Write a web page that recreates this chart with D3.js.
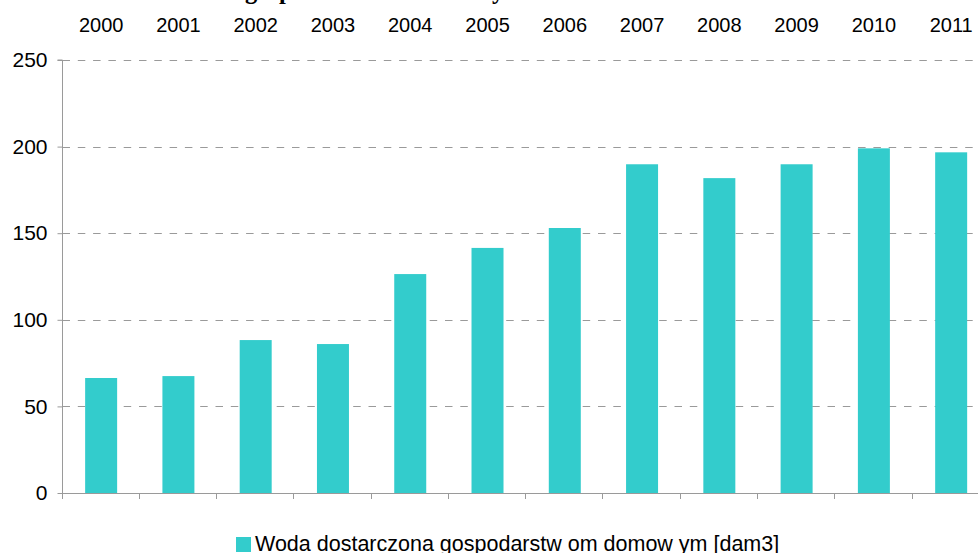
<!DOCTYPE html>
<html>
<head>
<meta charset="utf-8">
<script src="https://cdn.jsdelivr.net/npm/d3@7"></script>
<style>
  html, body { margin: 0; padding: 0; background: #fff; overflow: hidden; }
  svg { display: block; }
</style>
</head>
<body>
<script>
// Water delivered to households, 2000–2011 [dam3]
const years = ["2000","2001","2002","2003","2004","2005","2006","2007","2008","2009","2010","2011"];
const values = [66.4, 67.5, 88.3, 86.0, 126.4, 141.5, 153.0, 189.8, 181.8, 189.8, 199.0, 196.7];
const yTicks = [0, 50, 100, 150, 200, 250];
const titleText = "Woda dostarczona gospodarstwom domowym";
const legendText = "Woda dostarczona gospodarstw om domow ym [dam3]";

const W = 978, H = 553;
const plot = { left: 62.5, right: 989.8, top: 60, bottom: 493 };
const barColor = "#33CCCC";
const axisColor = "#9a9a9a";

const svg = d3.select("body").append("svg")
  .attr("width", W).attr("height", H);

const x = d3.scaleBand()
  .domain(years)
  .range([plot.left, plot.right])
  .paddingInner(0.586)
  .paddingOuter(0.293);

const y = d3.scaleLinear()
  .domain([0, 250])
  .range([plot.bottom, plot.top]);

// Title (mostly above the visible area)
const title = svg.append("text")
  .attr("y", -1)
  .attr("font-family", "'Liberation Serif', 'Times New Roman', serif")
  .attr("font-weight", "bold")
  .attr("font-size", 24.5)
  .attr("fill", "#000")
  .text(titleText);
const gIdx = titleText.indexOf("g");
const preW = title.node().getSubStringLength(0, gIdx);
title.attr("x", 245 - preW);

// Dashed horizontal gridlines
svg.append("g")
  .selectAll("line")
  .data(yTicks.filter(d => d > 0))
  .join("line")
  .attr("x1", plot.left).attr("x2", W)
  .attr("y1", d => Math.round(y(d)) + 0.5)
  .attr("y2", d => Math.round(y(d)) + 0.5)
  .attr("stroke", axisColor)
  .attr("stroke-width", 1)
  .attr("stroke-dasharray", "7.5,7.8");

// Bars
svg.append("g")
  .selectAll("rect")
  .data(years.map((yr, i) => ({ yr, v: values[i] })))
  .join("rect")
  .attr("x", d => x(d.yr))
  .attr("width", x.bandwidth())
  .attr("y", d => y(d.v))
  .attr("height", d => y(0) - y(d.v))
  .attr("fill", barColor);

// Y axis
const yAxis = d3.axisLeft(y)
  .tickValues(yTicks)
  .tickSize(5)
  .tickPadding(10)
  .tickFormat(d3.format("d"));
const gy = svg.append("g")
  .attr("transform", `translate(${Math.round(plot.left) - 0.5},0)`)
  .call(yAxis);
gy.select(".domain").attr("stroke", axisColor).attr("d", `M-5,${plot.top}H0V${plot.bottom}`);
gy.selectAll(".tick line").attr("stroke", axisColor);
gy.selectAll(".tick text")
  .attr("font-family", "'Liberation Sans', Arial, sans-serif")
  .attr("font-size", 21)
  .attr("fill", "#000");

// X axis baseline and category boundary ticks
const step = x.step();
const boundaries = d3.range(years.length + 1).map(i => plot.left + i * step);
svg.append("line")
  .attr("x1", plot.left).attr("x2", W)
  .attr("y1", plot.bottom + 0.5).attr("y2", plot.bottom + 0.5)
  .attr("stroke", axisColor);
svg.append("g")
  .selectAll("line")
  .data(boundaries)
  .join("line")
  .attr("x1", d => Math.round(d) - 0.5).attr("x2", d => Math.round(d) - 0.5)
  .attr("y1", plot.bottom).attr("y2", plot.bottom + 6)
  .attr("stroke", axisColor);

// Year labels along the top
const xAxisTop = d3.axisTop(x).tickSize(0).tickPadding(0);
const gx = svg.append("g")
  .attr("transform", "translate(0,32)")
  .call(xAxisTop);
gx.select(".domain").remove();
gx.selectAll(".tick text")
  .attr("font-family", "'Liberation Sans', Arial, sans-serif")
  .attr("font-size", 20)
  .attr("fill", "#000")
  .attr("dy", 0);

// Legend
const legend = svg.append("g").attr("transform", "translate(236,537)");
legend.append("rect")
  .attr("width", 15).attr("height", 15)
  .attr("fill", barColor);
legend.append("text")
  .attr("x", 19).attr("y", 14)
  .attr("font-family", "'Liberation Sans', Arial, sans-serif")
  .attr("font-size", 21.5)
  .attr("fill", "#000")
  .text(legendText);
</script>
</body>
</html>
